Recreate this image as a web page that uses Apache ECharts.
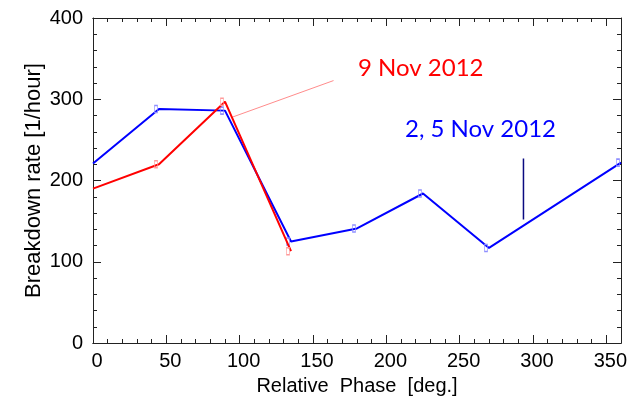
<!DOCTYPE html>
<html><head><meta charset="utf-8">
<script src="https://cdn.jsdelivr.net/npm/echarts@6/dist/echarts.min.js"></script>
<style>html,body{margin:0;padding:0;background:#fff}#c{width:633px;height:405px}</style>
</head><body><div id="c"></div>
<script>
// ---- data ----
const phaseBlue = [0, 45, 90, 135, 180, 225, 270, 360];
const rateBlue  = [221, 288, 286, 125, 141, 184, 117, 222];
const phaseRed  = [0, 45, 90, 135];
const rateRed   = [190, 220, 297, 113];
const pointerRedX  = [95, 164];
const pointerRedY  = [278, 323];
const pointerBlueX = [293.5, 293.5];
const pointerBlueY = [152, 227];
const xMin = 0, xMax = 360, xMajor = 50, xMinor = 10;
const yMin = 0, yMax = 400, yMajor = 100;
const labelRed = '9 Nov 2012';
const labelBlue = '2, 5 Nov 2012';
const xTitle = 'Relative  Phase  [deg.]';
const yTitle = 'Breakdown rate [1/hour]';

const FONT = '"Liberation Sans", Arial, sans-serif';
const AX = '#222';

function pairs(xs, ys) { return xs.map((x, i) => [x, ys[i]]); }
function withMarks(xs, ys) {
  return xs.map((x, i) => (x === xMin ? { value: [x, ys[i]], symbol: 'none' } : [x, ys[i]]));
}

function xAx(pos, interval, len, labels) {
  return {
    type: 'value', position: pos, min: xMin, max: xMax, interval: interval,
    axisLine: { show: true, onZero: false, lineStyle: { color: AX, width: 1 } },
    axisTick: { show: true, inside: true, length: len, lineStyle: { color: AX } },
    axisLabel: labels ? { show: true, showMaxLabel: false, color: '#000', fontFamily: FONT, fontSize: 20, margin: 8, padding: [0, 0, 0, 8] } : { show: false },
    splitLine: { show: false },
    name: labels ? xTitle : '', nameLocation: 'middle', nameGap: 33, nameMoveOverlap: false,
    nameTextStyle: { color: '#000', fontFamily: FONT, fontSize: 20 }
  };
}
function yAx(pos, labels) {
  return {
    type: 'value', position: pos, min: yMin, max: yMax, interval: yMajor,
    axisLine: { show: true, onZero: false, lineStyle: { color: AX, width: 1 } },
    axisTick: { show: true, inside: true, length: 8, lineStyle: { color: AX } },
    minorTick: { show: true, splitNumber: 5, length: 4, lineStyle: { color: AX } },
    axisLabel: labels ? { show: true, color: '#000', fontFamily: FONT, fontSize: 20, margin: 10 } : { show: false },
    splitLine: { show: false },
    name: labels ? yTitle : '', nameLocation: 'middle', nameGap: 48, nameMoveOverlap: false,
    nameTextStyle: { color: '#000', fontFamily: FONT, fontSize: 22 }
  };
}

const chart = echarts.init(document.getElementById('c'), null, { renderer: 'canvas' });
chart.setOption({
  animation: false,
  backgroundColor: '#fff',
  grid: { left: 93, top: 18, right: 12, bottom: 62, containLabel: false },
  xAxis: [
    xAx('bottom', xMajor, 8, true),
    xAx('bottom', xMinor, 4, false),
    xAx('top', xMajor, 8, false),
    xAx('top', xMinor, 4, false)
  ],
  yAxis: [yAx('left', true), yAx('right', false)],
  graphic: [
    { type: 'text', left: 358, top: 56, style: { text: labelRed, fill: '#ff0000', font: '24px Lato, "Open Sans", sans-serif' } },
    { type: 'text', left: 405, top: 117, style: { text: labelBlue, fill: '#0000ff', font: '24px Lato, "Open Sans", sans-serif' } }
  ],
  series: [
    {
      type: 'line', data: withMarks(phaseBlue, rateBlue), z: 3,
      lineStyle: { color: '#0000ff', width: 2 },
      symbol: 'rect', symbolSize: [3, 7], symbolOffset: [-3, 0],
      itemStyle: { color: 'rgba(0,0,0,0)', borderColor: '#8f8fff', borderWidth: 1 }
    },
    {
      type: 'line', data: withMarks(phaseRed, rateRed), z: 4,
      lineStyle: { color: '#ff0000', width: 2 },
      symbol: 'rect', symbolSize: [3, 7], symbolOffset: [-3, 0],
      itemStyle: { color: 'rgba(0,0,0,0)', borderColor: '#ff9a9a', borderWidth: 1 }
    },
    {
      type: 'line', data: pairs(pointerRedX, pointerRedY), symbol: 'none',
      lineStyle: { color: '#ff8c8c', width: 1 }
    },
    {
      type: 'line', data: pairs(pointerBlueX, pointerBlueY), symbol: 'none',
      lineStyle: { color: '#0a0a80', width: 1.5 }
    }
  ]
});
</script>
</body></html>
